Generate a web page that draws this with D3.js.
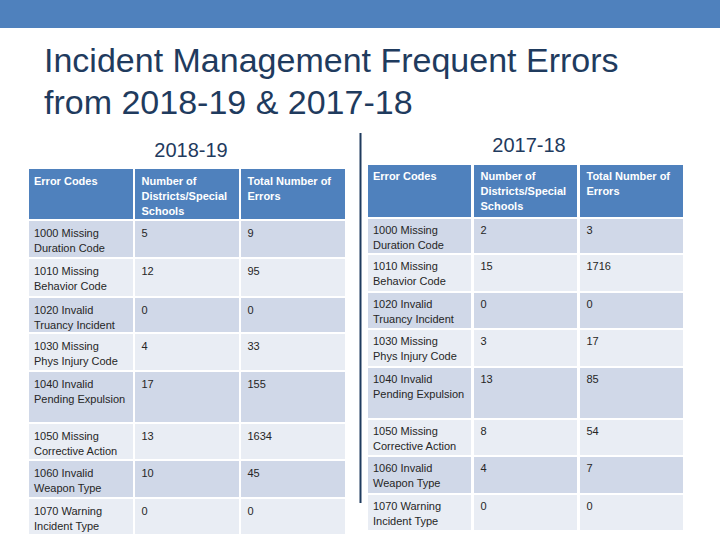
<!DOCTYPE html>
<html>
<head>
<meta charset="utf-8">
<script src="https://cdn.jsdelivr.net/npm/d3@7"></script>
<style>
  html, body { margin: 0; padding: 0; background: #fff; }
  svg { display: block; }
</style>
</head>
<body>
<svg id="chart" width="720" height="540"></svg>
<script>
// ---- data ----
const titleLines = ["Incident Management Frequent Errors", "from 2018-19 & 2017-18"];
const yearLabels = ["2018-19", "2017-18"];
const headers = [
  ["Error Codes"],
  ["Number of", "Districts/Special", "Schools"],
  ["Total Number of", "Errors"]
];
const errorCodes = [
  ["1000 Missing", "Duration Code"],
  ["1010 Missing", "Behavior Code"],
  ["1020 Invalid", "Truancy Incident"],
  ["1030 Missing", "Phys Injury Code"],
  ["1040 Invalid", "Pending Expulsion"],
  ["1050 Missing", "Corrective Action"],
  ["1060 Invalid", "Weapon Type"],
  ["1070 Warning", "Incident Type"]
];
const districts1819 = [5, 12, 0, 4, 17, 13, 10, 0];
const errors1819 = [9, 95, 0, 33, 155, 1634, 45, 0];
const districts1718 = [2, 15, 0, 3, 13, 8, 4, 0];
const errors1718 = [3, 1716, 0, 17, 85, 54, 7, 0];

// ---- layout / style ----
const W = 720, H = 540;
const svg = d3.select("#chart");
const titleColor = "#1F3B5E";
const headerFill = "#4F81BD";
const oddFill = "#D0D8E8";
const evenFill = "#E9EDF4";
const bodyText = "#262626";

svg.append("rect").attr("x", 0).attr("y", 0).attr("width", W).attr("height", 28).attr("fill", "#4F81BD");

svg.selectAll("text.title").data(titleLines).join("text")
  .attr("class", "title")
  .attr("x", 44)
  .attr("y", (d, i) => 72 + i * 41.5)
  .attr("font-family", "'Liberation Sans', Arial, sans-serif")
  .attr("font-size", 34)
  .attr("fill", titleColor)
  .text(d => d);

// divider
svg.append("line").attr("x1", 360.5).attr("x2", 360.5).attr("y1", 133).attr("y2", 503)
  .attr("stroke", "#1F3B5E").attr("stroke-width", 2);

function drawTable(cfg) {
  const g = svg.append("g");
  const cols = d3.scaleBand().domain(d3.range(3)).range(cfg.xRange).paddingInner(cfg.colPad);
  // row tops from heights
  const tops = [];
  let y = cfg.top;
  cfg.heights.forEach(h => { tops.push(y); y += h + cfg.rowGap; });

  const rows = [{ header: true, cells: headers }].concat(
    errorCodes.map((c, i) => ({ header: false, idx: i, cells: [c, [String(cfg.districts[i])], [String(cfg.errors[i])]] }))
  );

  rows.forEach((row, r) => {
    const fill = row.header ? headerFill : (row.idx % 2 === 0 ? oddFill : evenFill);
    row.cells.forEach((lines, c) => {
      g.append("rect")
        .attr("x", cols(c)).attr("y", tops[r])
        .attr("width", cols.bandwidth()).attr("height", cfg.heights[r])
        .attr("fill", fill);
      g.append("text")
        .attr("x", cols(c) + (c === 0 ? 5 : 6.5))
        .attr("y", tops[r] + cfg.textOffset)
        .attr("font-family", "'Liberation Sans', Arial, sans-serif")
        .attr("font-size", 11)
        .attr("font-weight", row.header ? "bold" : "normal")
        .attr("fill", row.header ? "#fff" : bodyText)
        .selectAll("tspan").data(lines).join("tspan")
        .attr("x", cols(c) + (c === 0 ? 5 : 6.5))
        .attr("dy", (d, i) => i === 0 ? 0 : 15)
        .text(d => d);
    });
  });

  svg.append("text")
    .attr("x", cfg.labelX).attr("y", cfg.labelY)
    .attr("text-anchor", "middle")
    .attr("font-family", "'Liberation Sans', Arial, sans-serif")
    .attr("font-size", 20)
    .attr("fill", titleColor)
    .text(cfg.label);
}

drawTable({
  xRange: [29, 345], colPad: 2 / 106, top: 169, rowGap: 2,
  heights: [50, 36, 37, 34, 36, 50, 35, 36, 35],
  textOffset: 15.5,
  districts: districts1819, errors: errors1819,
  label: yearLabels[0], labelX: 191, labelY: 157
});

drawTable({
  xRange: [368, 683], colPad: 3 / 106, top: 165, rowGap: 2,
  heights: [52, 34, 36, 35, 36, 50, 35, 36, 35],
  textOffset: 14.5,
  districts: districts1718, errors: errors1718,
  label: yearLabels[1], labelX: 529, labelY: 152
});
</script>
</body>
</html>
